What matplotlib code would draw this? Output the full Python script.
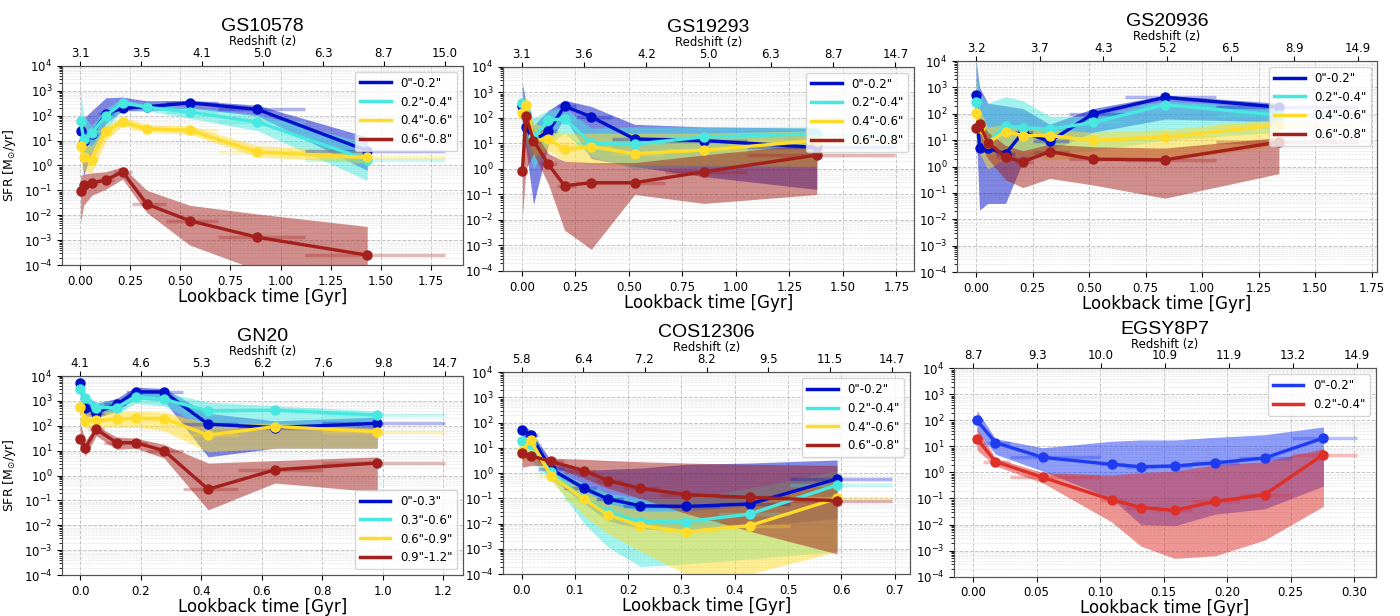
import numpy as np
import matplotlib
matplotlib.use("Agg")
import matplotlib.pyplot as plt
from matplotlib.lines import Line2D
from matplotlib.ticker import MultipleLocator, LogLocator, NullFormatter

# ---------------- data (SFR medians in Msun/yr, bands in log10 SFR) ----------------
# GS10578
t_gs10578 = [0.002, 0.017, 0.057, 0.128, 0.211, 0.333, 0.547, 0.885, 1.433]
edges_gs10578 = [0, 0.01, 0.03, 0.09, 0.17, 0.26, 0.43, 0.69, 1.12, 1.82]
z_gs10578 = ["3.1", "3.5", "4.1", "5.0", "6.3", "8.7", "15.0"]
sfr_gs10578 = [
    [24, 10, 18, 120, 200, 230, 330, 180, 3.9],
    [60, 12, 20, 100, 330, 220, 140, 56, 1.7],
    [6, 2.2, 1.7, 24, 55, 30, 26, 3.5, 2.1],
    [0.093, 0.16, 0.2, 0.26, 0.56, 0.028, 0.006, 0.0013, 0.00025],
]
lo_gs10578 = [
    [0.6, -0.4, 0.5, 1.7, 2.2, 2.2, 2.3, 2.0, -0.2],
    [0.7, 0.2, 0.6, 1.4, 2.3, 2.2, 1.9, 1.4, -0.6],
    [0.2, -0.2, -0.3, 1.0, 1.6, 1.35, 1.25, 0.35, 0.1],
    [-2.3, -1.6, -1.2, -0.95, -0.55, -1.9, -3.2, -4.2, -5.0],
]
hi_gs10578 = [
    [2.0, 1.9, 2.2, 2.72, 2.75, 2.6, 2.62, 2.42, 1.15],
    [3.0, 2.0, 1.6, 2.3, 2.65, 2.45, 2.35, 2.05, 0.9],
    [1.2, 0.9, 0.8, 1.6, 1.95, 1.65, 1.6, 0.8, 0.55],
    [-0.4, -0.35, -0.3, -0.25, -0.05, -1.0, -1.6, -1.95, -2.45],
]

# GS19293
t_gs19293 = [0.003, 0.02, 0.055, 0.125, 0.2, 0.325, 0.527, 0.852, 1.378]
edges_gs19293 = [0, 0.01, 0.035, 0.085, 0.165, 0.255, 0.42, 0.67, 1.05, 1.745]
z_gs19293 = ["3.1", "3.6", "4.2", "5.0", "6.3", "8.7", "14.7"]
sfr_gs19293 = [
    [300, 45, 13, 30, 290, 110, 15, 13, 7],
    [400, 150, 18, 80, 95, 10, 9.5, 18, 24],
    [150, 320, 13, 15, 6, 7.5, 4, 5.5, 13],
    [0.85, 120, 13, 1.5, 0.22, 0.29, 0.29, 0.78, 3.5],
]
lo_gs19293 = [
    [1.5, 0.8, -1.4, 1.0, 2.0, 0.4, 0.1, -0.3, -0.8],
    [1.8, 1.0, 0.0, 1.0, 1.4, 0.5, 0.0, 0.1, 0.1],
    [1.5, 1.4, 0.5, 0.7, 0.3, 0.2, 0.15, 0.15, 0.1],
    [-1.9, 0.0, 0.6, -0.6, -2.4, -3.15, -1.0, -1.35, -1.0],
]
hi_gs19293 = [
    [3.35, 2.6, 1.7, 2.3, 2.7, 2.45, 1.75, 1.65, 1.6],
    [3.1, 2.4, 2.0, 2.3, 2.4, 1.6, 1.65, 1.65, 1.65],
    [2.7, 2.8, 1.8, 1.6, 1.4, 1.4, 1.4, 1.4, 1.5],
    [1.5, 2.2, 1.5, 0.6, 0.3, 0.25, 0.25, 0.55, 1.0],
]

# GS20936
t_gs20936 = [0.0, 0.015, 0.052, 0.13, 0.207, 0.326, 0.518, 0.836, 1.34]
edges_gs20936 = [0, 0.008, 0.03, 0.09, 0.17, 0.25, 0.41, 0.66, 1.06, 1.69]
z_gs20936 = ["3.2", "3.7", "4.3", "5.2", "6.5", "8.9", "14.9"]
sfr_gs20936 = [
    [500, 5, 5, 3, 20, 9, 100, 420, 180],
    [290, 33, 8, 35, 30, 26, 47, 220, 90],
    [105, 30, 8, 21, 15, 15, 9.8, 13, 38],
    [29, 40, 8, 2.3, 1.5, 3.7, 1.9, 1.8, 8.5],
]
lo_gs20936 = [
    [1.5, -1.65, -1.4, -1.4, 0.2, 0.6, 1.3, 1.8, 1.7],
    [1.0, 0.5, 0.4, 0.6, 0.6, 0.5, 0.6, 1.0, 1.3],
    [1.3, 0.5, -0.1, 0.3, 0.4, 0.3, 0.3, 0.2, 0.8],
    [1.2, 0.8, 0.3, -0.5, -0.8, -0.45, -0.7, -1.2, -0.27],
]
hi_gs20936 = [
    [4.0, 3.0, 2.4, 2.3, 2.2, 1.6, 2.2, 2.7, 2.4],
    [4.0, 2.8, 2.4, 2.65, 2.5, 1.9, 1.9, 2.5, 2.2],
    [3.3, 2.2, 1.5, 1.6, 1.5, 1.4, 1.3, 1.4, 1.8],
    [1.8, 1.8, 1.3, 0.8, 0.6, 0.85, 0.75, 0.7, 1.1],
]

# GN20
t_gn20 = [0.0, 0.017, 0.053, 0.12, 0.183, 0.277, 0.423, 0.644, 0.982]
edges_gn20 = [0, 0.008, 0.03, 0.08, 0.15, 0.22, 0.34, 0.52, 0.80, 1.205]
z_gn20 = ["4.1", "4.6", "5.3", "6.2", "7.6", "9.8", "14.7"]
sfr_gn20 = [
    [5400, 540, 340, 720, 2300, 2300, 115, 85, 125],
    [2900, 1350, 540, 540, 1450, 1150, 400, 420, 270],
    [570, 160, 165, 180, 200, 195, 42, 93, 58],
    [29, 13, 72, 21, 21, 10, 0.28, 1.7, 3.2],
]
lo_gn20 = [
    [3.4, 2.4, 2.3, 2.6, 3.1, 3.0, 0.75, 1.1, 1.1],
    [3.1, 2.7, 2.5, 2.5, 2.9, 2.8, 1.9, 2.0, 2.0],
    [2.3, 1.9, 1.95, 1.95, 1.95, 1.8, 0.95, 1.1, 1.1],
    [1.2, 0.8, 1.6, 1.05, 1.1, 0.7, -1.38, -0.3, -0.66],
]
hi_gn20 = [
    [3.85, 3.2, 2.9, 3.1, 3.55, 3.5, 2.5, 2.2, 2.35],
    [4.0, 3.3, 2.95, 3.0, 3.45, 3.35, 2.95, 2.8, 2.6],
    [3.0, 2.6, 2.55, 2.6, 2.6, 2.55, 2.1, 2.1, 1.9],
    [2.1, 1.4, 2.0, 1.55, 1.5, 1.25, 0.5, 0.6, 0.75],
]

# COS12306
t_cos12306 = [0.001, 0.017, 0.055, 0.1175, 0.1625, 0.223, 0.309, 0.428, 0.592]
edges_cos12306 = [0, 0.005, 0.03, 0.08, 0.14, 0.19, 0.26, 0.37, 0.503, 0.694]
z_cos12306 = ["5.8", "6.4", "7.2", "8.2", "9.5", "11.5", "14.7"]
sfr_cos12306 = [
    [52, 32, 1.45, 0.25, 0.094, 0.051, 0.048, 0.06, 0.59],
    [19, 14, 1.07, 0.093, 0.028, 0.012, 0.012, 0.024, 0.34],
    [7.8, 20, 0.8, 0.093, 0.022, 0.0083, 0.0048, 0.0083, 0.1],
    [6.1, 4.9, 2.9, 1.26, 0.5, 0.25, 0.14, 0.11, 0.081],
]
lo_cos12306 = [
    [1.5, 1.2, -0.2, -1.2, -1.9, -2.2, -2.3, -2.1, -1.8],
    [0.9, 0.5, -0.2, -2.0, -2.94, -3.7, -3.6, -3.4, -3.1],
    [0.4, 0.8, -0.3, -1.7, -2.4, -3.1, -4.0, -4.0, -3.1],
    [0.23, 0.3, 0.3, -0.2, -0.6, -1.0, -1.6, -2.3, -3.2],
]
hi_cos12306 = [
    [1.9, 1.7, 0.5, 0.1, 0.15, 0.2, 0.35, 0.4, 0.52],
    [1.5, 1.3, 0.2, -0.4, -0.8, -1.0, -1.0, -0.6, 0.1],
    [1.1, 1.4, 0.0, -0.7, -1.2, -1.5, -1.5, -1.3, -0.1],
    [0.85, 0.65, 0.59, 0.55, 0.5, 0.45, 0.4, 0.35, 0.3],
]

# EGSY8P7
t_egsy8p7 = [0.003, 0.0176, 0.0548, 0.109, 0.132, 0.1586, 0.1906, 0.2294, 0.2758]
edges_egsy8p7 = [0, 0.008, 0.029, 0.1, 0.12, 0.145, 0.172, 0.209, 0.251, 0.302]
z_egsy8p7 = ["8.7", "9.3", "10.0", "10.9", "11.9", "13.2", "14.9"]
sfr_egsy8p7 = [
    [100, 14, 3.8, 2.05, 1.67, 1.78, 2.35, 3.6, 21],
    [20, 2.6, 0.65, 0.089, 0.045, 0.035, 0.077, 0.14, 4.9],
]
lo_egsy8p7 = [
    [1.6, 0.7, 0.05, -1.0, -2.0, -2.05, -1.6, -1.4, -0.52],
    [0.86, 0.25, -0.4, -1.9, -2.83, -3.3, -3.2, -2.6, -1.3],
]
hi_egsy8p7 = [
    [2.38, 1.3, 0.95, 1.2, 1.25, 1.25, 1.35, 1.45, 1.75],
    [1.7, 0.55, 0.0, -0.1, 0.0, 0.05, 0.3, 0.41, 0.92],
]

labels_02 = ['0"-0.2"', '0.2"-0.4"', '0.4"-0.6"', '0.6"-0.8"']
labels_03 = ['0"-0.3"', '0.3"-0.6"', '0.6"-0.9"', '0.9"-1.2"']
colors4 = ["#0010c8", "#48e8e0", "#ffdc2a", "#a3201c"]
colors2 = ["#1f3cf0", "#de2f28"]

# ---------------- figure ----------------
fig = plt.figure(figsize=(14, 6.16), dpi=100)

panels = [
    ("GS10578", t_gs10578, edges_gs10578, z_gs10578, sfr_gs10578, lo_gs10578, hi_gs10578,
     labels_02, colors4, [0.0443, 0.5698, 0.2864, 0.3231], 0.25, "upper right", True),
    ("GS19293", t_gs19293, edges_gs19293, z_gs19293, sfr_gs19293, lo_gs19293, hi_gs19293,
     labels_02, colors4, [0.3593, 0.5601, 0.2936, 0.3312], 0.25, "upper right", False),
    ("GS20936", t_gs20936, edges_gs20936, z_gs20936, sfr_gs20936, lo_gs20936, hi_gs20936,
     labels_02, colors4, [0.6836, 0.5584, 0.3000, 0.3425], 0.25, "upper right", False),
    ("GN20", t_gn20, edges_gn20, z_gn20, sfr_gn20, lo_gn20, hi_gn20,
     labels_03, colors4, [0.0443, 0.0665, 0.2864, 0.3231], 0.2, "lower right", True),
    ("COS12306", t_cos12306, edges_cos12306, z_cos12306, sfr_cos12306, lo_cos12306, hi_cos12306,
     labels_02, colors4, [0.3593, 0.0680, 0.2907, 0.3279], 0.1, "upper right", False),
    ("EGSY8P7", t_egsy8p7, edges_egsy8p7, z_egsy8p7, sfr_egsy8p7, lo_egsy8p7, hi_egsy8p7,
     labels_02[:2], colors2, [0.6814, 0.0640, 0.3014, 0.3380], 0.05, "upper right", False),
]

for (name, t, edges, zlab, sfr, lo, hi, labels, cols, pos, step, legloc, ylab) in panels:
    ax = fig.add_axes(pos)
    t = np.array(t)
    edges = np.array(edges)
    tmax = edges[-1]
    handles = []
    for k in range(len(sfr)):
        c = cols[k]
        ax.fill_between(t, 10 ** np.array(lo[k]), 10 ** np.array(hi[k]),
                        color=c, alpha=0.5, lw=0, zorder=2)
        ax.hlines(sfr[k], edges[:-1], edges[1:], color=c, alpha=0.3, lw=2.5, zorder=2.5)
        ax.plot(t, sfr[k], color=c, lw=2.4, marker="o", ms=6.5, zorder=3)
        handles.append(Line2D([], [], color=c, lw=2.5))

    ax.set_yscale("log")
    ax.set_ylim(1e-4, 1e4)
    ax.set_xlim(-0.05 * tmax, 1.05 * tmax)
    ax.yaxis.set_major_locator(LogLocator(base=10, numticks=20))
    ax.yaxis.set_minor_locator(LogLocator(base=10, subs=np.arange(2, 10), numticks=20))
    ax.yaxis.set_minor_formatter(NullFormatter())
    ax.xaxis.set_major_locator(MultipleLocator(step))
    ax.set_axisbelow(True)
    ax.grid(True, which="major", ls="--", color="#c4c4c4", lw=0.7, zorder=0)
    ax.grid(True, which="minor", axis="y", ls="--", color="#e4e4e4", lw=0.5, zorder=0)
    ax.tick_params(labelsize=8.5)
    for sp in ax.spines.values():
        sp.set_color("#555555")
    ax.set_xlabel("Lookback time [Gyr]", fontsize=12, labelpad=0)
    if ylab:
        ax.set_ylabel(r"SFR [M$_{\odot}$/yr]", fontsize=9)
    ax.legend(handles, labels, loc=legloc, fontsize=8.5, handlelength=2.6)

    ax2 = ax.twiny()
    ax2.set_xlim(ax.get_xlim())
    ax2.set_xticks(np.linspace(0, tmax, 7))
    ax2.set_xticklabels(zlab)
    ax2.tick_params(labelsize=8.5, pad=1)
    for sp in ax2.spines.values():
        sp.set_color("#555555")
    ax2.set_xlabel("Redshift (z)", fontsize=8.5, labelpad=1)
    ax2.set_title(name, fontsize=14, family="Liberation Sans", pad=1)

fig.savefig("out.png", dpi=100, facecolor="white")
